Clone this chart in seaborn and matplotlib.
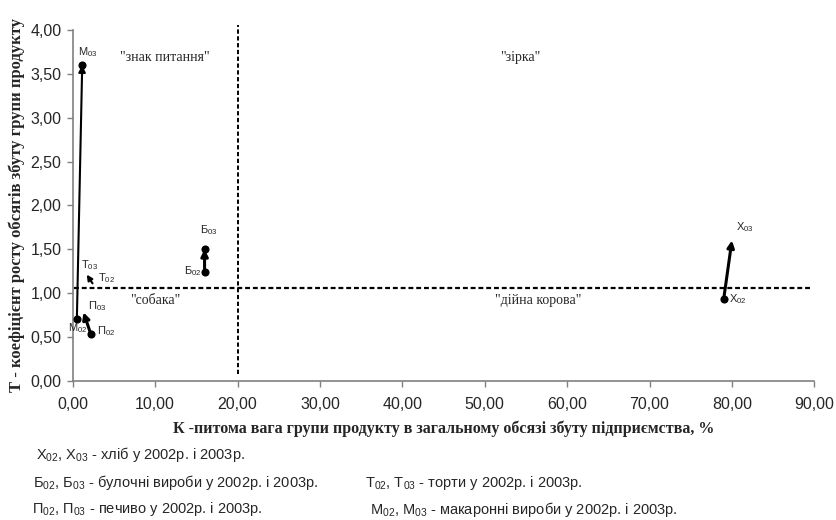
import matplotlib
matplotlib.use('Agg')
import matplotlib.pyplot as plt
import seaborn as sns
import pandas as pd

# Products: 2002 and 2003 positions (K - share %, T - growth coefficient)
codes = ['Х', 'Б', 'Т', 'П', 'М']
k_2002 = [79.0, 16.0, 2.4, 2.2, 0.5]
t_2002 = [0.93, 1.24, 1.11, 0.53, 0.70]
k_2003 = [80.0, 16.0, 1.7, 1.3, 1.15]
t_2003 = [1.60, 1.50, 1.21, 0.78, 3.60]

# which points carry a dot marker
dots_2002 = ['Х', 'Б', 'П', 'М']
dots_2003 = ['Б', 'М']

# label positions for the point names
lab02_x = [80.7, 14.6, 4.1, 4.0, 0.65]
lab02_y = [0.93, 1.25, 1.17, 0.57, 0.60]
lab03_x = [81.6, 16.5, 2.1, 2.95, 1.8]
lab03_y = [1.75, 1.72, 1.32, 0.85, 3.75]

# quadrant dividers
k_split = 20.1
t_split = 1.06

quad_names = ['"знак питання"', '"зірка"', '"собака"', '"дійна корова"']
quad_x = [11.2, 54.3, 10.0, 56.5]
quad_y = [3.69, 3.69, 0.92, 0.92]

legend_lines = [
    ('Х', 'хліб у 2002р. і 2003р.'),
    ('Б', 'булочні вироби у 2002р. і 2003р.'),
    ('Т', 'торти у 2002р. і 2003р.'),
    ('П', 'печиво у 2002р. і 2003р.'),
    ('М', 'макаронні вироби у 2002р. і 2003р.'),
]
legend_pos = [(0.043, 0.125), (0.039, 0.072), (0.436, 0.072),
              (0.038, 0.021), (0.442, 0.021)]

sns.set_theme(style='ticks')
plt.rcParams['font.family'] = ['Liberation Sans', 'DejaVu Sans']
plt.rcParams['mathtext.fontset'] = 'custom'
plt.rcParams['mathtext.rm'] = 'Liberation Sans'
plt.rcParams['mathtext.it'] = 'Liberation Sans'

df02 = pd.DataFrame({'code': codes, 'K': k_2002, 'T': t_2002})
df03 = pd.DataFrame({'code': codes, 'K': k_2003, 'T': t_2003})
dots = pd.concat([df02[df02['code'].isin(dots_2002)],
                  df03[df03['code'].isin(dots_2003)]])

fig = plt.figure(figsize=(8.37, 5.20), dpi=100)
ax = fig.add_axes([0.0869, 0.2679, 0.886, 0.6744])

# quadrant lines
ax.plot([0.2, 89.6], [t_split, t_split], color='black', lw=1.6,
        linestyle=(0, (2.2, 1.3)), clip_on=False)
ax.plot([k_split, k_split], [0.08, 4.06], color='black', lw=1.4,
        linestyle=(0, (2.2, 1.3)), clip_on=False)

sns.scatterplot(data=dots, x='K', y='T', color='black', s=34,
                edgecolor='black', linewidth=0, ax=ax, zorder=3)

# movement arrows 2002 -> 2003
for c, x0, y0, x1, y1 in zip(codes, k_2002, t_2002, k_2003, t_2003):
    lw = 1.5 if c in ('М', 'Т') else 2.2
    ax.annotate('', xy=(x1, y1), xytext=(x0, y0),
                arrowprops=dict(arrowstyle='-|>', color='black', lw=lw,
                                mutation_scale=10 if c != 'Т' else 8,
                                shrinkA=0, shrinkB=0), zorder=4)

for c, x, y in zip(codes, lab02_x, lab02_y):
    ax.text(x, y, c + r'$\mathregular{_{02}}$', fontsize=8, ha='center',
            va='center', zorder=5)
for c, x, y in zip(codes, lab03_x, lab03_y):
    ax.text(x, y, c + r'$\mathregular{_{03}}$', fontsize=8, ha='center',
            va='center', zorder=5)

for name, x, y in zip(quad_names, quad_x, quad_y):
    ax.text(x, y, name, fontsize=10, ha='center', va='center',
            family='Liberation Serif')

ax.set_xlim(0, 90)
ax.set_ylim(0, 4)
ax.set_xticks(range(0, 91, 10))
ax.set_yticks([i * 0.5 for i in range(9)])
ax.set_xticklabels([f'{v:.2f}'.replace('.', ',') for v in range(0, 91, 10)])
ax.set_yticklabels([f'{i * 0.5:.2f}'.replace('.', ',') for i in range(9)])
ax.tick_params(axis='both', labelsize=11.5, color='#808080', length=4,
               width=1, direction='out')
ax.tick_params(axis='x', pad=8)
ax.tick_params(axis='y', pad=4)

for side in ['top', 'right']:
    ax.spines[side].set_visible(False)
for side in ['left', 'bottom']:
    ax.spines[side].set_color('#808080')
    ax.spines[side].set_linewidth(1.2)

ax.set_xlabel('К -питома вага групи продукту в загальному обсязі збуту підприємства, %',
              fontsize=11.5, fontweight='bold', family='Liberation Serif', labelpad=6)
ax.set_ylabel('Т - коефіцієнт росту обсягів збуту групи продукту',
              fontsize=12, fontweight='bold', family='Liberation Serif', labelpad=4)

for (c, desc), (x, y) in zip(legend_lines, legend_pos):
    fig.text(x, y, c + r'$\mathregular{_{02}}$, ' + c + r'$\mathregular{_{03}}$ - ' + desc,
             fontsize=10.5, ha='left', va='center')

plt.savefig('out.png', dpi=100)
